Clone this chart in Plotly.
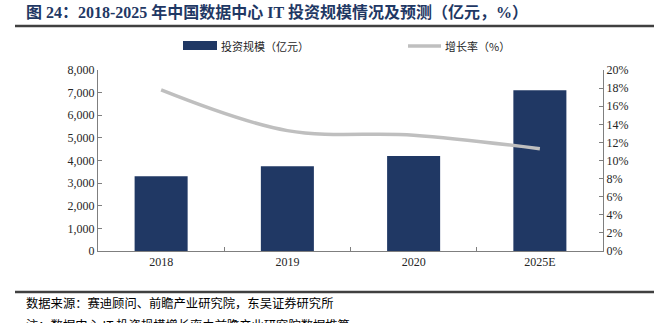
import plotly.graph_objects as go

categories = ["2018", "2019", "2020", "2025E"]
invest = [3300, 3750, 4200, 7100]
growth = [0.178, 0.133, 0.128, 0.113]
bar_name = "投资规模（亿元）"
line_name = "增长率（%）"
title_text = "图 24：2018-2025 年中国数据中心 IT 投资规模情况及预测（亿元，%）"
source_text = "数据来源：赛迪顾问、前瞻产业研究院，东吴证券研究所"
note_text = "注：数据中心 IT 投资规模增长率由前瞻产业研究院数据推算"

NAVY = "#203864"
GRAY = "#BFBFBF"
AX = "#7F7F7F"
SERIF = "Liberation Serif"
FONT = "Liberation Serif, Noto Sans CJK SC"
TICKFONT = dict(family=SERIF, size=12, color="#262626")

fig = go.Figure()
fig.add_trace(go.Bar(x=categories, y=invest, name=bar_name, marker=dict(color=NAVY, line=dict(width=0)),
                     width=0.42, yaxis="y", showlegend=False))
fig.add_trace(go.Scatter(x=categories, y=growth, name=line_name, mode="lines",
                         line=dict(color=GRAY, width=3.5, shape="spline", smoothing=1.0),
                         yaxis="y2", showlegend=False))

fig.update_layout(
    width=667, height=323,
    margin=dict(l=98, r=64, t=70, b=72),
    paper_bgcolor="white", plot_bgcolor="white",
    font=dict(family=FONT, size=12, color="#262626"),
    xaxis=dict(type="category", showline=True, linecolor=AX, linewidth=1,
               ticks="inside", tickson="boundaries", ticklen=4, tickcolor=AX,
               showgrid=False, tickfont=TICKFONT),
    yaxis=dict(range=[0, 8000], dtick=1000, tickformat=",", showline=True, linecolor=AX,
               ticks="inside", ticklen=4, tickcolor=AX, showgrid=False, zeroline=False,
               tickfont=TICKFONT),
    yaxis2=dict(range=[0, 0.20], dtick=0.02, tickformat=".0%", overlaying="y", side="right",
                showline=True, linecolor=AX, ticks="inside", ticklen=4, tickcolor=AX,
                showgrid=False, zeroline=False, tickfont=TICKFONT),
    bargap=0.58,
)

def px_x(p):
    return (p - 98) / 505
def px_y(p):
    return (251 - p) / 181

shapes = [
    dict(type="line", xref="paper", yref="paper", x0=px_x(15), x1=px_x(654), y0=px_y(26), y1=px_y(26),
         line=dict(color="#404040", width=2.5)),
    dict(type="line", xref="paper", yref="paper", x0=px_x(15), x1=px_x(654), y0=px_y(292), y1=px_y(292),
         line=dict(color="#404040", width=2.5)),
    dict(type="rect", xref="paper", yref="paper", x0=px_x(183), x1=px_x(217),
         y0=px_y(50), y1=px_y(41), fillcolor=NAVY, line=dict(width=0)),
    dict(type="line", xref="paper", yref="paper", x0=px_x(408), x1=px_x(441),
         y0=px_y(46), y1=px_y(46), line=dict(color=GRAY, width=3.5)),
]

annotations = [
    dict(text=f"<b>{title_text}</b>", xref="paper", yref="paper", x=px_x(24), y=px_y(12),
         xanchor="left", yanchor="middle", showarrow=False,
         font=dict(family=FONT, size=16, color="#1F3864")),
    dict(text=bar_name, xref="paper", yref="paper", x=px_x(219), y=px_y(46),
         xanchor="left", yanchor="middle", showarrow=False,
         font=dict(family="Noto Sans CJK SC", size=11, color="#262626")),
    dict(text=line_name, xref="paper", yref="paper", x=px_x(443), y=px_y(46),
         xanchor="left", yanchor="middle", showarrow=False,
         font=dict(family="Noto Sans CJK SC", size=11, color="#262626")),
    dict(text=source_text, xref="paper", yref="paper", x=px_x(24), y=px_y(303),
         xanchor="left", yanchor="middle", showarrow=False,
         font=dict(family="Noto Sans CJK SC", size=12.3, color="#000000")),
    dict(text=note_text, xref="paper", yref="paper", x=px_x(24), y=px_y(314),
         xanchor="left", yanchor="top", showarrow=False,
         font=dict(family="Noto Sans CJK SC", size=12.3, color="#000000")),
]
fig.update_layout(shapes=shapes, annotations=annotations)

fig.write_html("out.html")
